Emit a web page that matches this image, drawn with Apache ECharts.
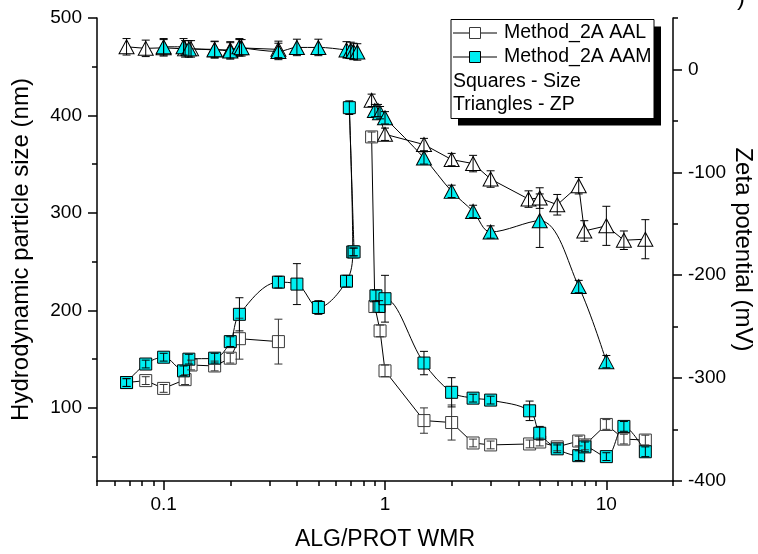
<!DOCTYPE html>
<html><head><meta charset="utf-8">
<script src="https://cdn.jsdelivr.net/npm/echarts@6/dist/echarts.min.js"></script>
<style>html,body{margin:0;padding:0;background:#fff}#c{width:758px;height:554px}</style>
</head><body><div id="c"></div>
<script>
// ---- data (null = break in the line) ----
const aalSizeX   = [0.068,0.083,0.1,0.125,0.133,0.17,0.2,0.22,0.33,null,0.87,0.9,0.95,1.0,1.5,2.0,2.5,3.0,4.5,5.0,6.0,7.5,8.0,10,12,15];
const aalSizeY   = [126,128,120,129,144,143,151,171,168,null,378,204,179,138,87,85,64,62,63,65,60,66,62,83,68,67];
const aalSizeErr = [4,4,4,5,5,5,5,21,23,null,5,6,6,6,13,18,4,4,4,4,4,5,5,5,5,5];

const aamSizeX   = [0.068,0.083,0.1,0.123,0.13,0.17,0.2,0.22,0.33,0.4,0.5,0.67,0.715,0.69,0.725,null,0.91,0.94,1.0,1.5,2.0,2.5,3.0,4.5,5.0,6.0,7.5,8.0,10,12,15];
const aamSizeY   = [126,145,152,138,150,151,168,196,229,227,203,230,260,408,260,null,215,204,212,146,116,110,108,97,74,58,51,60,50,81,55];
const aamSizeErr = [4,4,4,5,5,5,5,17,6,21,7,6,4,7,4,null,6,6,24,12,15,4,4,10,7,4,5,5,4,5,5];

const aalZpX   = [0.068,0.083,0.1,0.125,0.133,0.17,0.2,0.22,0.33,null,0.87,0.93,1.0,1.5,2.0,2.5,3.0,4.45,5.0,6.0,7.5,7.95,10,12,15];
const aalZpY   = [22,20.5,21,20,20,19,19,21,19.5,null,-30,-40,-63,-73,-87.6,-91.5,-106.5,-126,-125,-131.5,-113,-157,-152,-166,-165];
const aalZpErr = [8,8,8,8,8,8,8,8,8,null,6,6,6,6,6,8,8,8,10,10,8,10,19,9,19];

const aamZpX   = [0.1,0.123,0.13,0.17,0.2,0.22,0.225,0.33,0.4,0.5,0.67,0.7,0.72,0.75,null,0.9,0.95,1.0,1.5,2.0,2.5,3.0,5.0,7.5,10];
const aamZpY   = [22,22,20,19.5,18,22,21,17.5,21.4,21.4,19,18.5,17.5,17,null,-40,-42,-47,-86,-118.5,-138,-158,-147,-211,-284];
const aamZpErr = [8,8,8,8,8,8,8,8,8,8,8,8,8,8,null,6,6,6,6,6,6,6,26,6,6];

const xMajor = [0.1,1,10];
const xMinor = [0.05,0.06,0.07,0.08,0.09,0.2,0.3,0.4,0.5,0.6,0.7,0.8,0.9,2,3,4,5,6,7,8,9,20];
const yMajor = [100,200,300,400,500];
const yMinor = [50,150,250,350,450];
const zMajor = [-400,-300,-200,-100,0];
const zMinor = [-350,-250,-150,-50,50];

const FONT = '"Liberation Sans", Arial, sans-serif';
const CYAN = '#00eef2';

function pts(xs, ys){ return xs.map((x,i)=> x==null ? '-' : [x, ys[i]]); }
function errSeries(xs, ys, es, yIdx, color){
  const data = [];
  xs.forEach((x,i)=>{ if(x!=null) data.push([x, ys[i], es[i]]); });
  return {
    type:'custom', xAxisIndex:0, yAxisIndex:yIdx, data, z:6, silent:true,
    encode:{x:0, y:1},
    renderItem:(params, api)=>{
      const x=api.value(0), y=api.value(1), e=api.value(2);
      const t=api.coord([x,y+e]), b=api.coord([x,y-e]);
      const w=4, st={stroke:color, lineWidth:1};
      return {type:'group', children:[
        {type:'line', shape:{x1:t[0],y1:t[1],x2:b[0],y2:b[1]}, style:st},
        {type:'line', shape:{x1:t[0]-w,y1:t[1],x2:t[0]+w,y2:t[1]}, style:st},
        {type:'line', shape:{x1:b[0]-w,y1:b[1],x2:b[0]+w,y2:b[1]}, style:st}
      ]};
    }
  };
}

const axisLineStyle = {color:'#000', width:1.5};
const labelStyle = {fontSize:19, color:'#000', fontFamily:FONT};

const option = {
  animation:false,
  backgroundColor:'#fff',
  grid:{left:97, right:85, top:18, bottom:73, containLabel:false, outerBoundsMode:'none'},
  xAxis:[
    {type:'log', logBase:10, min:0.05, max:20, position:'bottom',
     axisLine:{show:true, onZero:false, lineStyle:axisLineStyle},
     axisTick:{show:true, length:9, lineStyle:axisLineStyle, customValues:xMajor},
     axisLabel:Object.assign({customValues:xMajor, margin:14, formatter:v=>String(+(+v).toPrecision(6))}, labelStyle),
     splitLine:{show:false}, minorTick:{show:false},
     name:'ALG/PROT WMR', nameLocation:'middle', nameGap:47, nameMoveOverlap:false,
     nameTextStyle:{fontSize:23, color:'#000', fontFamily:FONT}},
    {type:'log', logBase:10, min:0.05, max:20, position:'bottom',
     axisLine:{show:false, onZero:false},
     axisTick:{show:true, length:5, lineStyle:axisLineStyle, customValues:xMinor},
     axisLabel:{show:false}, splitLine:{show:false}}
  ],
  yAxis:[
    {type:'value', min:25, max:500, position:'left',
     axisLine:{show:true, onZero:false, lineStyle:axisLineStyle},
     axisTick:{show:true, length:9, lineStyle:axisLineStyle, customValues:yMajor},
     axisLabel:Object.assign({customValues:yMajor, margin:15}, labelStyle),
     splitLine:{show:false},
     name:'Hydrodynamic particle size (nm)', nameLocation:'middle', nameRotate:90, nameGap:64, nameMoveOverlap:false,
     nameTextStyle:{fontSize:24, color:'#000', fontFamily:FONT}},
    {type:'value', min:25, max:500, position:'left',
     axisLine:{show:false, onZero:false},
     axisTick:{show:true, length:5, lineStyle:axisLineStyle, customValues:yMinor},
     axisLabel:{show:false}, splitLine:{show:false}},
    {type:'value', min:-400, max:50, position:'right',
     axisLine:{show:true, onZero:false, lineStyle:axisLineStyle},
     axisTick:{show:true, length:9, lineStyle:axisLineStyle, customValues:zMajor},
     axisLabel:Object.assign({customValues:zMajor, margin:15}, labelStyle),
     splitLine:{show:false},
     name:'Zeta potential (mV)', nameLocation:'middle', nameRotate:-90, nameGap:58, nameMoveOverlap:false,
     nameTextStyle:{fontSize:24, color:'#000', fontFamily:FONT}},
    {type:'value', min:-400, max:50, position:'right',
     axisLine:{show:false, onZero:false},
     axisTick:{show:true, length:5, lineStyle:axisLineStyle, customValues:zMinor},
     axisLabel:{show:false}, splitLine:{show:false}}
  ],
  series:[
    {name:'AAL size', type:'line', xAxisIndex:0, yAxisIndex:0, data:pts(aalSizeX, aalSizeY),
     symbol:'rect', symbolSize:12, connectNulls:false,
     lineStyle:{color:'#000', width:1}, itemStyle:{color:'#fff', borderColor:'#3a3a3a', borderWidth:1}, z:2},
    {name:'AAL ZP', type:'line', xAxisIndex:0, yAxisIndex:2, data:pts(aalZpX, aalZpY),
     symbol:'triangle', symbolSize:[15,14], connectNulls:false,
     lineStyle:{color:'#000', width:1}, itemStyle:{color:'#fff', borderColor:'#000', borderWidth:1}, z:2},
    {name:'AAM size', type:'line', xAxisIndex:0, yAxisIndex:0, data:pts(aamSizeX, aamSizeY),
     symbol:'rect', symbolSize:12, connectNulls:false, smooth:0.35,
     lineStyle:{color:'#000', width:1}, itemStyle:{color:CYAN, borderColor:'#000', borderWidth:1}, z:3},
    {name:'AAM ZP', type:'line', xAxisIndex:0, yAxisIndex:2, data:pts(aamZpX, aamZpY),
     symbol:'triangle', symbolSize:[15,14], connectNulls:false, smooth:0.35,
     lineStyle:{color:'#000', width:1}, itemStyle:{color:CYAN, borderColor:'#000', borderWidth:1}, z:3},
    errSeries(aalSizeX, aalSizeY, aalSizeErr, 0, '#333'),
    errSeries(aamSizeX, aamSizeY, aamSizeErr, 0, '#000'),
    errSeries(aalZpX, aalZpY, aalZpErr, 2, '#000'),
    errSeries(aamZpX, aamZpY, aamZpErr, 2, '#000')
  ],
  graphic:[
    {type:'rect', z:100, shape:{x:458, y:26.5, width:203, height:99}, style:{fill:'#000'}},
    {type:'rect', z:101, shape:{x:451, y:19.5, width:203, height:99}, style:{fill:'#fff', stroke:'#000', lineWidth:1}},
    {type:'line', z:102, shape:{x1:453, y1:33, x2:497, y2:33}, style:{stroke:'#000', lineWidth:1}},
    {type:'rect', z:103, shape:{x:469.5, y:27.5, width:11, height:11}, style:{fill:'#fff', stroke:'#3a3a3a', lineWidth:1}},
    {type:'text', z:103, x:504, y:33, style:{text:'Method_2A AAL', fontSize:19.5, fontFamily:FONT, fill:'#000', verticalAlign:'middle'}},
    {type:'line', z:102, shape:{x1:453, y1:57, x2:497, y2:57}, style:{stroke:'#000', lineWidth:1}},
    {type:'rect', z:103, shape:{x:469.5, y:51.5, width:11, height:11}, style:{fill:CYAN, stroke:'#000', lineWidth:1}},
    {type:'text', z:103, x:504, y:57, style:{text:'Method_2A AAM', fontSize:19.5, fontFamily:FONT, fill:'#000', verticalAlign:'middle'}},
    {type:'text', z:103, x:453, y:81.5, style:{text:'Squares - Size', fontSize:19.5, fontFamily:FONT, fill:'#000', verticalAlign:'middle'}},
    {type:'text', z:103, x:453, y:105, style:{text:'Triangles - ZP', fontSize:19.5, fontFamily:FONT, fill:'#000', verticalAlign:'middle'}},
    {type:'text', z:103, x:737, y:-14, style:{text:')', fontSize:24, fontFamily:FONT, fill:'#000'}}
  ]
};
const chart = echarts.init(document.getElementById('c'), null, {renderer:'canvas'});
chart.setOption(option);
</script>
</body></html>
